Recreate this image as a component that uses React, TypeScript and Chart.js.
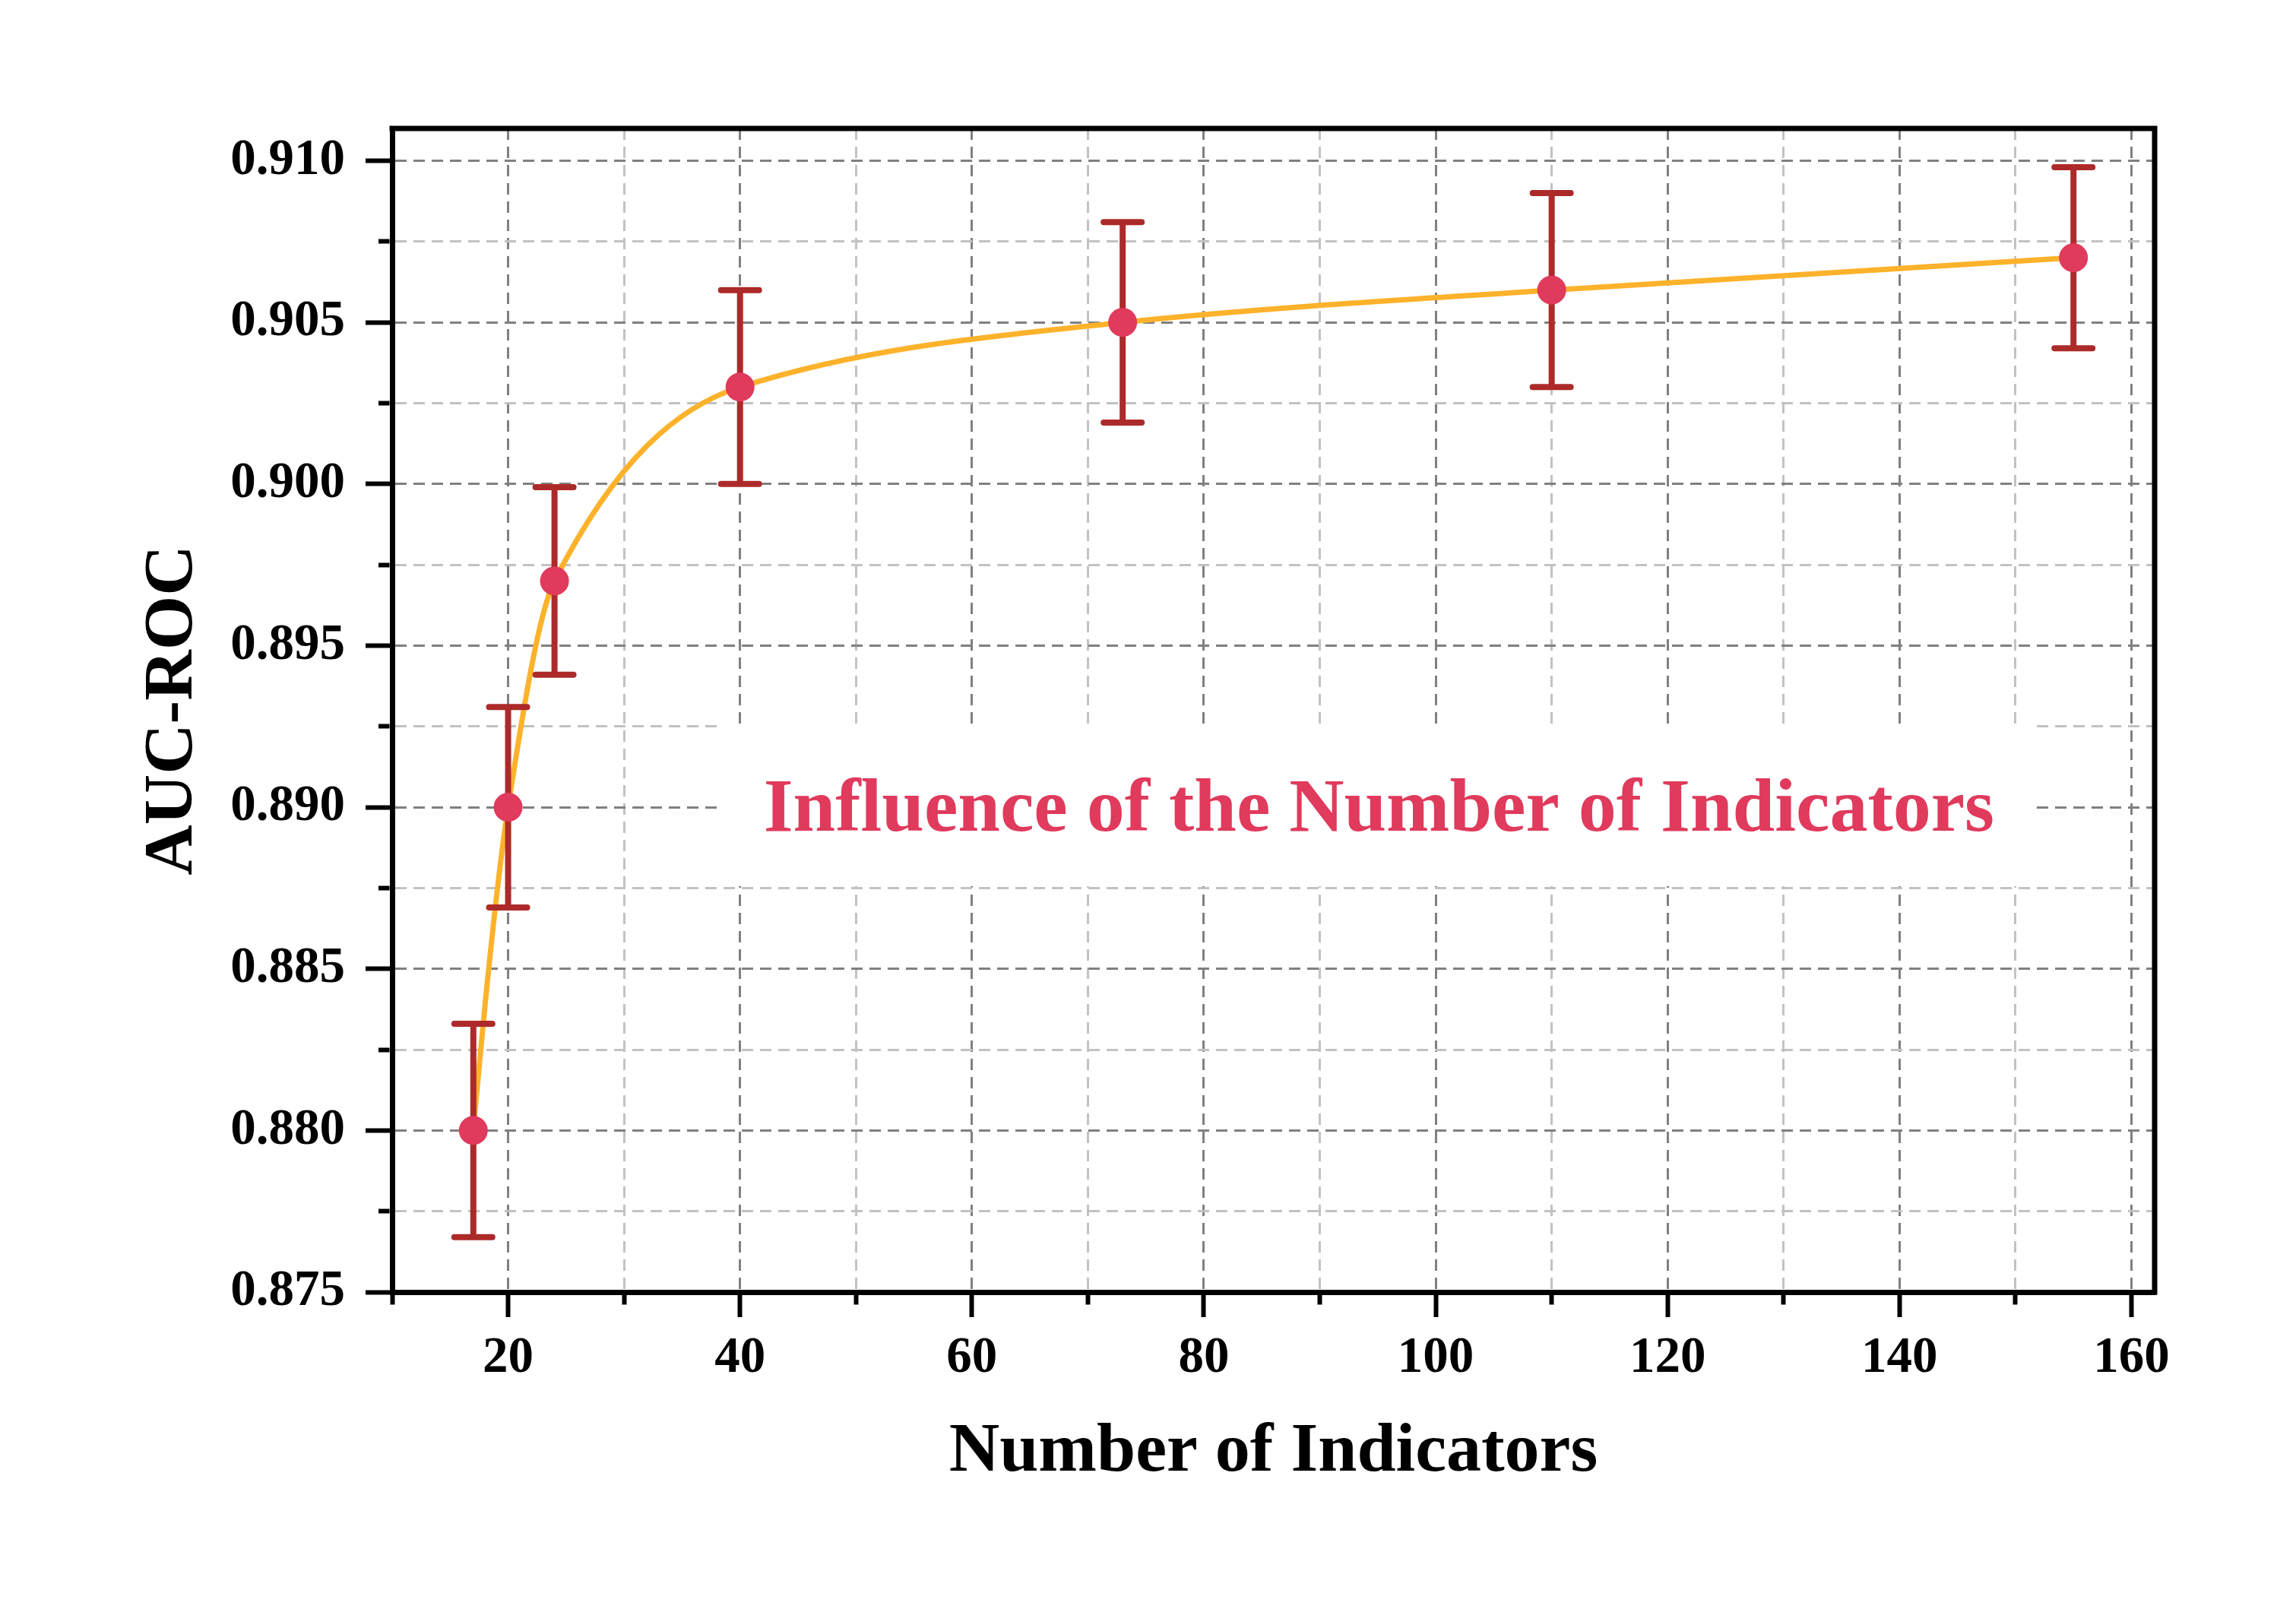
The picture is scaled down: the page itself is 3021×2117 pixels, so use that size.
import React, { useEffect, useRef } from 'react';
import { Chart, registerables } from 'chart.js';

Chart.register(...registerables);

// ---- data ----
const indicatorCounts = [17, 20, 24, 40, 73, 110, 155];
const aucValues = [0.88, 0.89, 0.897, 0.903, 0.905, 0.906, 0.907];
const aucUpper = [0.8833, 0.8931, 0.8999, 0.906, 0.9081, 0.909, 0.9098];
const aucLower = [0.8767, 0.8869, 0.8941, 0.9, 0.9019, 0.903, 0.9042];

const xTickValues = [10, 20, 30, 40, 50, 60, 70, 80, 90, 100, 110, 120, 130, 140, 150, 160];
const yTickValues = [
  0.875, 0.8775, 0.88, 0.8825, 0.885, 0.8875, 0.89, 0.8925, 0.895, 0.8975, 0.9, 0.9025, 0.905,
  0.9075, 0.91,
];

const xAxisTitle = 'Number of Indicators';
const yAxisTitle = 'AUC-ROC';
const annotationText = 'Influence of the Number of Indicators';

// annotation anchor (data coordinates)
const annotationX = 95.1;
const annotationY = 0.89005;

const FONT = "'Times New Roman', 'Liberation Serif', serif";
const LINE_COLOR = '#FDB22B';
const MARKER_COLOR = '#E03A5C';
const ERR_COLOR = '#AD2A2A';
const MAJOR_GRID = '#808080';
const MINOR_GRID = '#C2C2C2';

const AXIS_W = 7;
const X_TICK_LEN = 33;
const X_MINOR_LEN = 16;
const Y_TICK_LEN = 35;
const Y_MINOR_LEN = 18;

const isMajorX = (v: number) => Math.round(v) % 20 === 0;
const isMajorY = (v: number) => Math.round(v * 10000) % 50 === 0;

export default function App() {
  const canvasRef = useRef<HTMLCanvasElement | null>(null);

  useEffect(() => {
    const canvas = canvasRef.current;
    if (!canvas) return;

    // shape-preserving (PCHIP) tangents for the library's Bezier path
    const pchipPlugin = {
      id: 'pchipCurve',
      afterDatasetUpdate(chart: any, args: any) {
        if (args.index !== 1) return;
        const meta = chart.getDatasetMeta(1);
        const line = meta.dataset;
        const pts = meta.data;
        const n = pts.length;
        if (n < 3) return;
        const xs = pts.map((p: any) => p.x);
        const ys = pts.map((p: any) => p.y);
        const h: number[] = [];
        const d: number[] = [];
        for (let i = 0; i < n - 1; i++) {
          h[i] = xs[i + 1] - xs[i];
          d[i] = (ys[i + 1] - ys[i]) / h[i];
        }
        const m: number[] = new Array(n).fill(0);
        for (let k = 1; k < n - 1; k++) {
          if (d[k - 1] * d[k] > 0) {
            const w1 = 2 * h[k] + h[k - 1];
            const w2 = h[k] + 2 * h[k - 1];
            m[k] = (w1 + w2) / (w1 / d[k - 1] + w2 / d[k]);
          }
        }
        const edge = (h0: number, h1: number, d0: number, d1: number) => {
          let v = ((2 * h0 + h1) * d0 - h0 * d1) / (h0 + h1);
          if (Math.sign(v) !== Math.sign(d0)) v = 0;
          else if (Math.sign(d0) !== Math.sign(d1) && Math.abs(v) > Math.abs(3 * d0)) v = 3 * d0;
          return v;
        };
        m[0] = edge(h[0], h[1], d[0], d[1]);
        m[n - 1] = edge(h[n - 2], h[n - 3], d[n - 2], d[n - 3]);
        for (let i = 0; i < n; i++) {
          const p = pts[i];
          const hp = i > 0 ? h[i - 1] : h[0];
          const hn = i < n - 1 ? h[i] : h[n - 2];
          p.cp1x = xs[i] - hp / 3;
          p.cp1y = ys[i] - (m[i] * hp) / 3;
          p.cp2x = xs[i] + hn / 3;
          p.cp2y = ys[i] + (m[i] * hn) / 3;
        }
        line._pointsUpdated = true;
        line._path = undefined;
      },
    };

    const errorBarPlugin = {
      id: 'errorBars',
      afterDatasetDraw(chart: any, args: any) {
        if (args.index !== 1) return;
        const { ctx } = chart;
        const xs = chart.scales.x;
        const ys = chart.scales.y;
        ctx.save();
        ctx.strokeStyle = ERR_COLOR;
        ctx.lineWidth = 8;
        for (let i = 0; i < indicatorCounts.length; i++) {
          const px = xs.getPixelForValue(indicatorCounts[i]);
          const pt = ys.getPixelForValue(aucUpper[i]);
          const pb = ys.getPixelForValue(aucLower[i]);
          ctx.lineCap = 'butt';
          ctx.beginPath();
          ctx.moveTo(px, pt);
          ctx.lineTo(px, pb);
          ctx.stroke();
          ctx.lineCap = 'round';
          ctx.beginPath();
          ctx.moveTo(px - 25, pt);
          ctx.lineTo(px + 25, pt);
          ctx.moveTo(px - 25, pb);
          ctx.lineTo(px + 25, pb);
          ctx.stroke();
        }
        ctx.restore();
      },
    };

    const annotationPlugin = {
      id: 'annotationBox',
      beforeDatasetsDraw(chart: any) {
        const { ctx } = chart;
        const cx = chart.scales.x.getPixelForValue(annotationX);
        const cy = chart.scales.y.getPixelForValue(annotationY);
        ctx.save();
        ctx.font = `bold 100px ${FONT}`;
        const w = ctx.measureText(annotationText).width;
        const bw = w + 106;
        const bh = 212;
        ctx.fillStyle = '#ffffff';
        ctx.fillRect(cx - bw / 2, cy - bh / 2, bw, bh);
        ctx.fillStyle = MARKER_COLOR;
        ctx.textAlign = 'center';
        ctx.textBaseline = 'alphabetic';
        ctx.fillText(annotationText, cx, cy + 33);
        ctx.restore();
      },
    };

    const framePlugin = {
      id: 'frame',
      afterDraw(chart: any) {
        const { ctx, chartArea } = chart;
        ctx.save();
        ctx.strokeStyle = '#000';
        ctx.lineWidth = AXIS_W;
        ctx.lineCap = 'square';
        ctx.beginPath();
        ctx.moveTo(chartArea.left, chartArea.top);
        ctx.lineTo(chartArea.right, chartArea.top);
        ctx.lineTo(chartArea.right, chartArea.bottom);
        ctx.stroke();
        ctx.restore();
      },
    };

    const points = indicatorCounts.map((x, i) => ({ x, y: aucValues[i] }));

    const xDrawn = X_TICK_LEN - AXIS_W / 2;
    const yDrawn = Y_TICK_LEN - AXIS_W / 2;

    const chart = new Chart(canvas, {
      type: 'line',
      data: {
        datasets: [
          {
            label: 'markers',
            data: points,
            showLine: false,
            pointRadius: 19,
            pointBackgroundColor: MARKER_COLOR,
            pointBorderWidth: 0,
            pointHoverRadius: 19,
          },
          {
            label: 'curve',
            data: points,
            borderColor: LINE_COLOR,
            borderWidth: 7,
            pointRadius: 0,
            tension: 0.4,
            fill: false,
          },
        ],
      },
      options: {
        responsive: false,
        devicePixelRatio: 1,
        animation: false,
        events: [],
        layout: { padding: { left: 0, top: 169, right: 186, bottom: 0 } },
        plugins: {
          legend: { display: false },
          tooltip: { enabled: false },
        },
        scales: {
          x: {
            type: 'linear',
            min: 10,
            max: 162,
            afterBuildTicks: (s: any) => {
              s.ticks = xTickValues.map((v) => ({ value: v }));
            },
            afterFit: (s: any) => {
              s.height = 417;
            },
            ticks: {
              autoSkip: false,
              maxRotation: 0,
              padding: 14,
              color: '#000',
              font: { family: FONT, size: 67, weight: 'bold' },
              callback: (v: any) => (isMajorX(Number(v)) ? String(v) : ''),
            },
            grid: {
              color: (c: any) =>
                c.tick && c.tick.value === 10
                  ? 'rgba(0,0,0,0)'
                  : c.tick && isMajorX(c.tick.value)
                  ? MAJOR_GRID
                  : MINOR_GRID,
              lineWidth: 3,
              tickLength: X_TICK_LEN,
              tickWidth: 6,
              tickColor: '#000',
              tickBorderDash: (c: any) =>
                c.tick && isMajorX(c.tick.value) ? [] : [X_MINOR_LEN - AXIS_W / 2, 1000],
            },
            border: { display: true, color: '#000', width: AXIS_W, dash: [15, 9] },
            title: {
              display: true,
              text: xAxisTitle,
              color: '#000',
              font: { family: FONT, size: 92, weight: 'bold' },
              padding: { top: 0, bottom: 151 },
            },
          },
          y: {
            type: 'linear',
            min: 0.875,
            max: 0.911,
            afterBuildTicks: (s: any) => {
              s.ticks = yTickValues.map((v) => ({ value: v }));
            },
            afterFit: (s: any) => {
              s.width = 516;
            },
            ticks: {
              autoSkip: false,
              padding: 27,
              color: '#000',
              font: { family: FONT, size: 67, weight: 'bold' },
              callback: (v: any) => (isMajorY(Number(v)) ? Number(v).toFixed(3) : ''),
            },
            grid: {
              color: (c: any) =>
                c.tick && Math.abs(c.tick.value - 0.875) < 1e-9
                  ? 'rgba(0,0,0,0)'
                  : c.tick && isMajorY(c.tick.value)
                  ? MAJOR_GRID
                  : MINOR_GRID,
              lineWidth: 3,
              tickLength: Y_TICK_LEN,
              tickWidth: 6,
              tickColor: '#000',
              tickBorderDash: (c: any) =>
                c.tick && isMajorY(c.tick.value)
                  ? []
                  : [0, yDrawn - (Y_MINOR_LEN - AXIS_W / 2), Y_MINOR_LEN - AXIS_W / 2, 1000],
            },
            border: { display: true, color: '#000', width: AXIS_W, dash: [15, 9] },
            title: {
              display: true,
              text: yAxisTitle,
              color: '#000',
              font: { family: FONT, size: 92, weight: 'bold' },
              padding: { top: 173, bottom: 0 },
            },
          },
        },
      } as any,
      plugins: [pchipPlugin, annotationPlugin, errorBarPlugin, framePlugin],
    });
    void xDrawn;

    return () => {
      chart.destroy();
    };
  }, []);

  return (
    <div style={{ position: 'fixed', left: 0, top: 0, width: 3021, height: 2117, background: '#fff' }}>
      <canvas ref={canvasRef} width={3021} height={2117} style={{ width: 3021, height: 2117 }} />
    </div>
  );
}
